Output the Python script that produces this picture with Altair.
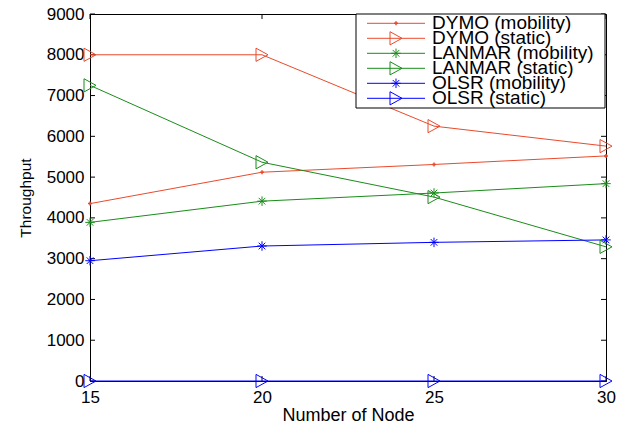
import altair as alt
import pandas as pd

nodes = [15, 20, 25, 30]
series_names = ["DYMO (mobility)", "DYMO (static)", "LANMAR (mobility)",
                "LANMAR (static)", "OLSR (mobility)", "OLSR (static)"]
dymo_mobility = [4350, 5120, 5310, 5520]
dymo_static = [8000, 8000, 6250, 5760]
lanmar_mobility = [3890, 4410, 4610, 4840]
lanmar_static = [7250, 5365, 4510, 3290]
olsr_mobility = [2950, 3310, 3400, 3460]
olsr_static = [0, 0, 0, 0]
y_ticks = [0, 1000, 2000, 3000, 4000, 5000, 6000, 7000, 8000, 9000]
x_ticks = [15, 20, 25, 30]

series_values = [dymo_mobility, dymo_static, lanmar_mobility,
                 lanmar_static, olsr_mobility, olsr_static]
colors = ["#ea4a2c", "#ea4a2c", "#1a8c1a", "#1a8c1a", "#0000ff", "#0000ff"]

rows = []
for name, vals in zip(series_names, series_values):
    for n, v in zip(nodes, vals):
        rows.append({"series": name, "node": n, "value": v})
df = pd.DataFrame(rows)
legend_df = pd.DataFrame({"series": series_names})

W, H = 516, 367
FONT = "Liberation Sans"

TRI = "M-1,-1.1L1,0L-1,1.1Z"
AST = "M-1,0H1M0,-1V1M-0.7,-0.7L0.7,0.7M-0.7,0.7L0.7,-0.7"
DOT = "M-1,0H1M0,-1V1"

DOT_SERIES = ["DYMO (mobility)"]
TRI_SERIES = ["DYMO (static)", "LANMAR (static)", "OLSR (static)"]
AST_SERIES = ["LANMAR (mobility)", "OLSR (mobility)"]

xscale = alt.Scale(domain=[15, 30], nice=False)
yscale = alt.Scale(domain=[0, 9000], nice=False)
cscale = alt.Scale(domain=series_names, range=colors)
col = alt.Color("series:N", scale=cscale, legend=None)

x_axis = alt.Axis(values=x_ticks, ticks=False, tickSize=0, grid=False,
                  labelPadding=8, titlePadding=1, labelFontSize=17,
                  titleFontSize=18, labelFont=FONT, titleFont=FONT,
                  labelColor="black", titleColor="black", titleFontWeight="normal",
                  domainColor="black", labelFlush=False)
y_axis = alt.Axis(values=y_ticks, ticks=False, tickSize=0, grid=False,
                  labelPadding=6, titlePadding=13, labelFontSize=17,
                  titleFontSize=15.5, labelFont=FONT, titleFont=FONT,
                  labelColor="black", titleColor="black", titleFontWeight="normal",
                  domainColor="black", format="d")
x_enc = alt.X("node:Q", scale=xscale, title="Number of Node", axis=x_axis)
y_enc = alt.Y("value:Q", scale=yscale, title="Throughput", axis=y_axis)

base = alt.Chart(df)

lines = base.mark_line(strokeWidth=1).encode(x=x_enc, y=y_enc, color=col)


def markers(src, names, path, size, sw, x, y):
    return src.transform_filter(
        alt.FieldOneOfPredicate(field="series", oneOf=names)
    ).mark_point(shape=path, size=size, filled=False, strokeWidth=sw, opacity=1).encode(
        x=x, y=y, color=col)


dots = markers(base, DOT_SERIES, DOT, 16, 1.5, x_enc, y_enc)
asts = markers(base, AST_SERIES, AST, 90, 1, x_enc, y_enc)
tris = markers(base, TRI_SERIES, TRI, 144, 1, x_enc, y_enc)

# inward ticks
ytick_df = pd.DataFrame({"value": y_ticks})
xtick_df = pd.DataFrame({"node": x_ticks})
ytl = alt.Chart(ytick_df).mark_rule(color="black", strokeWidth=1).encode(
    y=y_enc, x=alt.value(0), x2=alt.value(5))
ytr = alt.Chart(ytick_df).mark_rule(color="black", strokeWidth=1).encode(
    y=y_enc, x=alt.value(W - 5), x2=alt.value(W))
xtb = alt.Chart(xtick_df).mark_rule(color="black", strokeWidth=1).encode(
    x=x_enc, y=alt.value(H - 5), y2=alt.value(H))
xtt = alt.Chart(xtick_df).mark_rule(color="black", strokeWidth=1).encode(
    x=x_enc, y=alt.value(0), y2=alt.value(5))

main = alt.layer(ytl, ytr, xtb, xtt, lines, dots, asts, tris)

# legend box (inside top-right of the axes)
ly = alt.Y("series:N", scale=alt.Scale(type="point", domain=series_names,
                                        range=[9.3, 84.3], padding=0), axis=None)
lbase = alt.Chart(legend_df)
lbox = alt.Chart(pd.DataFrame({"box": [0]})).mark_rect(
    fill="white", stroke="black", strokeWidth=1).encode(
    x=alt.value(266), x2=alt.value(515), y=alt.value(0), y2=alt.value(94))
lrules = lbase.mark_rule(strokeWidth=1).encode(
    y=ly, x=alt.value(277), x2=alt.value(335), color=col)
ldots = markers(lbase, DOT_SERIES, DOT, 16, 1.5, alt.value(306), ly)
lasts = markers(lbase, AST_SERIES, AST, 90, 1, alt.value(306), ly)
ltris = markers(lbase, TRI_SERIES, TRI, 144, 1, alt.value(306), ly)
ltext = lbase.mark_text(align="left", baseline="middle", font=FONT, fontSize=19,
                        color="black").encode(x=alt.value(342), y=ly, text="series:N")

legend_part = alt.layer(lbox, lrules, ldots, lasts, ltris, ltext)

chart = alt.layer(main, legend_part).resolve_scale(y="independent").properties(
    width=W, height=H,
    autosize=alt.AutoSizeParams(type="none"),
    padding={"left": 82, "top": 6, "right": 10, "bottom": 44},
    background="white",
).configure_view(stroke="black", strokeWidth=1)

chart.save("out.html", embed_options={"renderer": "svg", "actions": False})
